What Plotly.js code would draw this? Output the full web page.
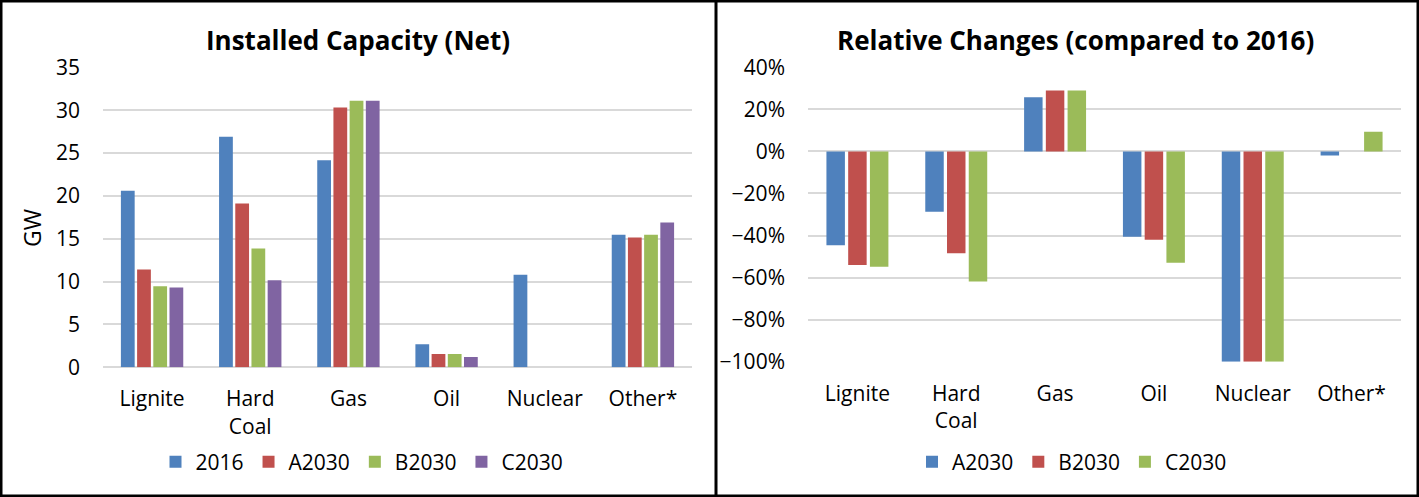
<!DOCTYPE html>
<html>
<head>
<meta charset="utf-8">
<script src="https://cdn.plot.ly/plotly-3.0.1.min.js"></script>
<style>html,body{margin:0;padding:0;background:#fff;}#chart{width:1419px;height:497px;}</style>
</head>
<body>
<div id="chart"></div>
<script>
const categories = ['Lignite', 'Hard<br>Coal', 'Gas', 'Oil', 'Nuclear', 'Other*'];
const capNames = ['2016', 'A2030', 'B2030', 'C2030'];
const cap2016 = [20.6, 26.9, 24.15, 2.7, 10.8, 15.45];
const capA2030 = [11.4, 19.1, 30.3, 1.55, 0, 15.15];
const capB2030 = [9.45, 13.85, 31.1, 1.55, 0, 15.45];
const capC2030 = [9.3, 10.15, 31.1, 1.2, 0, 16.9];
const relNames = ['A2030', 'B2030', 'C2030'];
const relA2030 = [-0.446, -0.287, 0.257, -0.406, -1.0, -0.02];
const relB2030 = [-0.54, -0.484, 0.29, -0.42, -1.0, 0.0];
const relC2030 = [-0.548, -0.619, 0.29, -0.53, -1.0, 0.094];
const capTicks = [0, 5, 10, 15, 20, 25, 30, 35];
const relTicks = [-1.0, -0.8, -0.6, -0.4, -0.2, 0, 0.2, 0.4];

const colors = ['#4F81BD', '#C0504D', '#9BBB59', '#8064A2'];
const W = 1419, H = 497;
const px = v => v / W;
const py = v => 1 - v / H;
const FONT = '"Open Sans", Lato, sans-serif';

const capSeries = [cap2016, capA2030, capB2030, capC2030];
const relSeries = [relA2030, relB2030, relC2030];
const traces = [];
capSeries.forEach((s, i) => traces.push({
  type: 'bar', x: categories, y: s, name: capNames[i],
  marker: {color: colors[i]}, xaxis: 'x', yaxis: 'y', legend: 'legend',
  hoverinfo: 'skip'
}));
relSeries.forEach((s, i) => traces.push({
  type: 'bar', x: categories, y: s, name: relNames[i],
  marker: {color: colors[i]}, xaxis: 'x2', yaxis: 'y2', legend: 'legend2',
  hoverinfo: 'skip'
}));

const gridC = '#d9d9d9';
const axFont = {family: FONT, size: 21, color: '#000'};
const legFont = {family: FONT, size: 21, color: '#000'};
const layout = {
  width: W, height: H,
  margin: {l: 0, r: 0, t: 0, b: 0},
  paper_bgcolor: '#fff', plot_bgcolor: '#fff',
  font: axFont,
  barmode: 'group', bargap: 0.34, bargroupgap: 0.15,
  xaxis: {domain: [px(103), px(692)], anchor: 'y', tickfont: axFont, ticks: '',
    showgrid: false, showline: false, zeroline: false, ticklabelstandoff: 17, automargin: false, fixedrange: true},
  yaxis: {domain: [py(367.3), py(67.3)], anchor: 'x', range: [0, 35], tickvals: capTicks,
    tickfont: axFont, showgrid: true, gridcolor: gridC, gridwidth: 2, zeroline: true, zerolinecolor: gridC, zerolinewidth: 2,
    showline: false, ticks: '', ticklabelstandoff: 22, automargin: false, fixedrange: true},
  xaxis2: {domain: [px(808), px(1401)], anchor: 'y2', tickfont: axFont, ticks: '',
    showgrid: false, showline: false, zeroline: false, ticklabelstandoff: 17, automargin: false, fixedrange: true},
  yaxis2: {domain: [py(361.7), py(67.3)], anchor: 'x2', range: [-1.0, 0.4], tickvals: relTicks, tickformat: '.0%',
    tickfont: axFont, showgrid: true, gridcolor: gridC, gridwidth: 2, zeroline: true, zerolinecolor: gridC, zerolinewidth: 2,
    showline: false, ticks: '', ticklabelstandoff: 22, automargin: false, fixedrange: true},
  legend: {orientation: 'h', x: px(362), xanchor: 'center', y: py(462), yanchor: 'middle',
    font: legFont, bgcolor: 'rgba(0,0,0,0)', itemwidth: 30, traceorder: 'normal'},
  legend2: {orientation: 'h', x: px(1072), xanchor: 'center', y: py(462), yanchor: 'middle',
    font: legFont, bgcolor: 'rgba(0,0,0,0)', itemwidth: 30, traceorder: 'normal'},
  annotations: [
    {text: '<b>Installed Capacity (Net)</b>', xref: 'paper', yref: 'paper', x: px(358), y: py(40),
      xanchor: 'center', yanchor: 'middle', showarrow: false, font: {family: FONT, size: 26, color: '#000'}},
    {text: '<b>Relative Changes (compared to 2016)</b>', xref: 'paper', yref: 'paper', x: px(1075), y: py(40),
      xanchor: 'center', yanchor: 'middle', showarrow: false, font: {family: FONT, size: 26, color: '#000'}},
    {text: 'GW', xref: 'paper', yref: 'paper', x: px(32), y: py(228), textangle: -90,
      xanchor: 'center', yanchor: 'middle', showarrow: false, font: {family: FONT, size: 23, color: '#000'}}
  ],
  shapes: [
    {type: 'rect', xref: 'paper', yref: 'paper', x0: 0, x1: 1, y0: 0, y1: 1, line: {color: '#000', width: 5}},
    {type: 'line', xref: 'paper', yref: 'paper', x0: px(716), x1: px(716), y0: 0, y1: 1, line: {color: '#000', width: 3}}
  ]
};
Plotly.newPlot('chart', traces, layout, {displayModeBar: false, staticPlot: true});
</script>
</body>
</html>
